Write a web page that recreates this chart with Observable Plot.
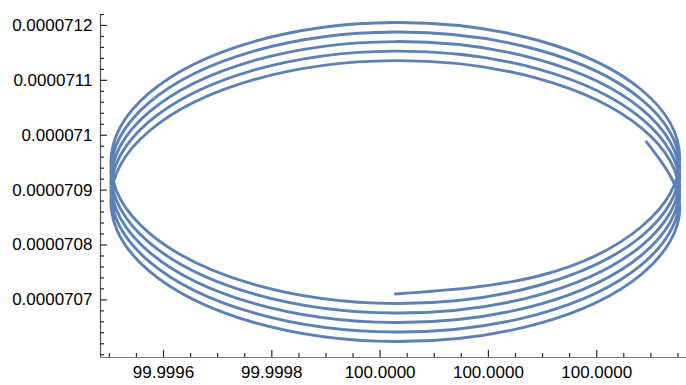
<!DOCTYPE html>
<html>
<head>
<meta charset="utf-8">
<script src="https://cdn.jsdelivr.net/npm/d3@7"></script>
<script src="https://cdn.jsdelivr.net/npm/@observablehq/plot@0.6"></script>
<style>
  html, body { margin: 0; padding: 0; background: #fff; }
  #chart { width: 686px; height: 385px; }
</style>
</head>
<body>
<div id="chart"></div>
<script>
// Orbit samples (x, y pairs in order along the curve)
const xVals = [
  100.0000281, 100.0002907, 100.000483, 100.0005534, 100.000483, 100.0002907, 100.0000281, 99.9997654, 99.9995732, 99.9995028, 99.9995732, 99.9997654,
  100.0000281, 100.0002907, 100.000483, 100.0005534, 100.000483, 100.0002907, 100.0000281, 99.9997654, 99.9995732, 99.9995028, 99.9995732, 99.9997654,
  100.0000281, 100.0002907, 100.000483, 100.0005534, 100.000483, 100.0002907, 100.0000281, 99.9997654, 99.9995732, 99.9995028, 99.9995732, 99.9997654,
  100.0000281, 100.0002907, 100.000483, 100.0005534, 100.000483, 100.0002907, 100.0000281, 99.9997654, 99.9995732, 99.9995028, 99.9995732, 99.9997654,
  100.0000281, 100.0002907, 100.000483, 100.0005534, 100.000483, 100.0002907, 100.0000281, 99.9997654, 99.9995732, 99.9995028, 99.9995732, 99.9997654,
  100.0000281, 100.0002907, 100.000483, 100.0005534, 100.0004919
];
const yVals = [
  7.071080e-5, 7.074306e-5, 7.083371e-5, 7.095807e-5, 7.108242e-5, 7.117308e-5, 7.120533e-5, 7.117019e-5, 7.107664e-5, 7.094940e-5, 7.082215e-5, 7.072861e-5,
  7.069346e-5, 7.072572e-5, 7.081637e-5, 7.094073e-5, 7.106508e-5, 7.115574e-5, 7.118799e-5, 7.115285e-5, 7.105930e-5, 7.093206e-5, 7.080481e-5, 7.071127e-5,
  7.067612e-5, 7.070838e-5, 7.079903e-5, 7.092339e-5, 7.104774e-5, 7.113840e-5, 7.117065e-5, 7.113551e-5, 7.104196e-5, 7.091472e-5, 7.078747e-5, 7.069393e-5,
  7.065878e-5, 7.069104e-5, 7.078169e-5, 7.090605e-5, 7.103040e-5, 7.112106e-5, 7.115331e-5, 7.111817e-5, 7.102462e-5, 7.089738e-5, 7.077013e-5, 7.067659e-5,
  7.064144e-5, 7.067370e-5, 7.076435e-5, 7.088871e-5, 7.101306e-5, 7.110372e-5, 7.113597e-5, 7.110083e-5, 7.100728e-5, 7.088004e-5, 7.075279e-5, 7.065925e-5,
  7.062410e-5, 7.065636e-5, 7.074701e-5, 7.087137e-5, 7.098802e-5
];

const xDomain = [99.99948366, 100.00056583];
const yDomain = [0.000070595, 0.00007122];

const xTicks = [99.9996, 99.9998, 100.0000, 100.0002, 100.0004];
const xTickLabels = ["99.9996", "99.9998", "100.0000", "100.0000", "100.0000"];
const xMinorTicks = [99.9995, 99.99955, 99.99965, 99.9997, 99.99975, 99.99985, 99.9999, 99.99995,
  100.00005, 100.0001, 100.00015, 100.00025, 100.0003, 100.00035, 100.00045, 100.0005, 100.00055];

const yTicks = [0.0000707, 0.0000708, 0.0000709, 0.000071, 0.0000711, 0.0000712];
const yTickLabels = ["0.0000707", "0.0000708", "0.0000709", "0.000071", "0.0000711", "0.0000712"];
const yMinorTicks = [0.0000706, 0.00007062, 0.00007064, 0.00007066, 0.00007068,
  0.00007072, 0.00007074, 0.00007076, 0.00007078,
  0.00007082, 0.00007084, 0.00007086, 0.00007088,
  0.00007092, 0.00007094, 0.00007096, 0.00007098,
  0.00007102, 0.00007104, 0.00007106, 0.00007108,
  0.00007112, 0.00007114, 0.00007116, 0.00007118,
  0.00007122];

const data = xVals.map((x, i) => ({x, y: yVals[i]}));
const xLabelOf = new Map(xTicks.map((t, i) => [t, xTickLabels[i]]));
const yLabelOf = new Map(yTicks.map((t, i) => [t, yTickLabels[i]]));

const W = 686, H = 385, mL = 100, mR = 0, mT = 14, mB = 28;
const frameW = W - mL - mR, frameH = H - mT - mB;
const axisColor = "#2a2a2a";
const majorLen = 7, minorLen = 4;

const chart = Plot.plot({
  width: W, height: H,
  marginLeft: mL, marginRight: mR, marginTop: mT, marginBottom: mB,
  style: {fontFamily: "'Liberation Sans', Arial, sans-serif", fontSize: "17px", background: "#fff", color: "#000"},
  x: {domain: xDomain, label: null},
  y: {domain: yDomain, label: null},
  marks: [
    // axis lines
    Plot.ruleX([xDomain[0]], {stroke: "#555", strokeWidth: 1.2}),
    Plot.ruleY([yDomain[0]], {stroke: "#777", strokeWidth: 1.2}),
    // inward ticks (pixel insets leave a short stub at the axis)
    Plot.tickX(xTicks, {x: d => d, insetTop: frameH - majorLen, stroke: axisColor, strokeWidth: 1.2}),
    Plot.tickX(xMinorTicks, {x: d => d, insetTop: frameH - minorLen, stroke: axisColor, strokeWidth: 1.2}),
    Plot.tickY(yTicks, {y: d => d, insetRight: frameW - majorLen, stroke: axisColor, strokeWidth: 1.2}),
    Plot.tickY(yMinorTicks, {y: d => d, insetRight: frameW - minorLen, stroke: axisColor, strokeWidth: 1.2}),
    // tick labels
    Plot.axisX(xTicks, {tickSize: 0, tickPadding: 8, label: null, tickFormat: d => xLabelOf.get(d), fill: "#000", fontSize: 17}),
    Plot.axisY(yTicks, {tickSize: 0, tickPadding: 8, label: null, tickFormat: d => yLabelOf.get(d), fill: "#000", fontSize: 17}),
    // the spiral orbit
    Plot.line(data, {x: "x", y: "y", curve: "natural", stroke: "#5E81B5", strokeWidth: 2.9, strokeLinecap: "round", strokeLinejoin: "round"})
  ]
});
document.getElementById("chart").appendChild(chart);
</script>
</body>
</html>
